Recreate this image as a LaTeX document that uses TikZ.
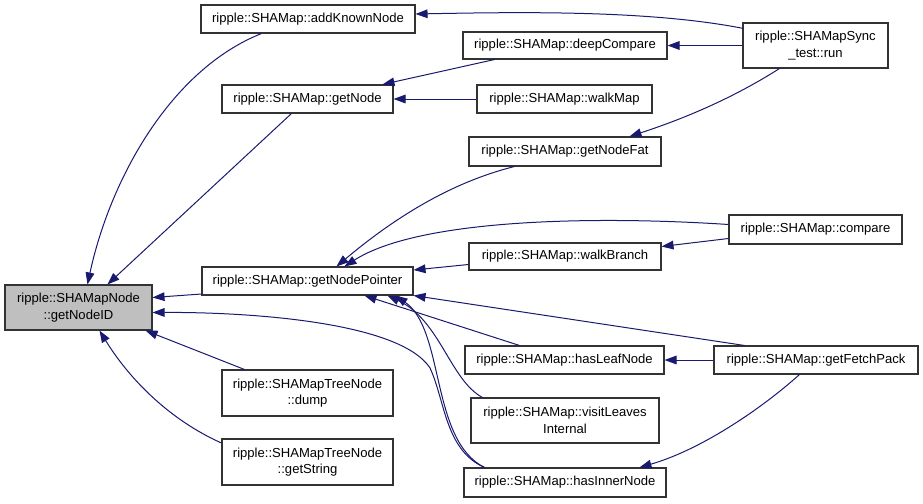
\documentclass[tikz,border=0pt]{standalone}
\usepackage{fontspec}
\setmainfont{Liberation Sans}
\usetikzlibrary{arrows.meta,calc}
\definecolor{edgeblue}{HTML}{191970}
\definecolor{boxgray}{HTML}{333333}
\definecolor{rootfill}{HTML}{BFBFBF}
\tikzset{
  fn/.style={rectangle, draw=boxgray, fill=white, line width=0.8pt, inner sep=0pt, align=center, font=\fontsize{9.8}{12.4}\selectfont},
  root/.style={fn, fill=rootfill},
  wh/.style 2 args={minimum width=#1*0.75pt, minimum height=#2*0.75pt},
  call/.style={-{Triangle[length=9pt,width=6.5pt]}, draw=edgeblue, line width=0.75pt}
}

\begin{document}
\begin{tikzpicture}[x=0.75pt, y=-0.75pt]
  \useasboundingbox (0,0) rectangle (923,503);

  % callees, left column
  \node[root, wh={147}{45}] (nodeid) at (78.5,307.5) {ripple::SHAMapNode\\::getNodeID};
  \node[fn, wh={214}{28}] (addknown) at (308,19) {ripple::SHAMap::addKnownNode};
  \node[fn, wh={171}{28}] (getnode) at (307.5,99) {ripple::SHAMap::getNode};
  \node[fn, wh={211}{28}] (getptr) at (307.5,281) {ripple::SHAMap::getNodePointer};
  \node[fn, wh={171}{46}] (dump) at (307.5,393) {ripple::SHAMapTreeNode\\::dump};
  \node[fn, wh={171}{46}] (getstr) at (307.5,462) {ripple::SHAMapTreeNode\\::getString};

  % middle column
  \node[fn, wh={204}{27}] (deepcmp) at (565,45.5) {ripple::SHAMap::deepCompare};
  \node[fn, wh={175}{28}] (walkmap) at (564.5,99) {ripple::SHAMap::walkMap};
  \node[fn, wh={192}{29}] (getfat) at (565,151.5) {ripple::SHAMap::getNodeFat};
  \node[fn, wh={192}{27}] (walkbr) at (565,256.5) {ripple::SHAMap::walkBranch};
  \node[fn, wh={199}{28}] (hasleaf) at (564.5,360) {ripple::SHAMap::hasLeafNode};
  \node[fn, wh={188}{45}] (visit) at (565,420.5) {ripple::SHAMap::visitLeaves\\Internal};
  \node[fn, wh={202}{29}] (hasinner) at (565,482.5) {ripple::SHAMap::hasInnerNode};

  % right column
  \node[fn, wh={145}{45}] (syncrun) at (815.5,45.5) {ripple::SHAMapSync\\\_test::run};
  \node[fn, wh={173}{29}] (compare) at (815.5,229.5) {ripple::SHAMap::compare};
  \node[fn, wh={204}{28}] (fetch) at (816,360) {ripple::SHAMap::getFetchPack};

  % calls into getNodeID
  \draw[call] ($(addknown.south west)+(61,0)$) .. controls (170,70) and (110,180) .. ($(nodeid.north west)+(83,0)$);
  \draw[call] ($(getnode.south west)+(70,0)$) -- ($(nodeid.north west)+(103,0)$);
  \draw[call] ($(getptr.west)+(0,13)$) -- ($(nodeid.east)+(0,-10)$);
  \draw[call] ($(hasinner.north west)+(21,0)$) .. controls (445,450) and (445,400) .. (430,368)
    .. controls (400,322) and (250,312) .. ($(nodeid.east)+(0,5)$);
  \draw[call] ($(dump.north west)+(23,0)$) -- ($(nodeid.south east)+(-7,0)$);
  \draw[call] ($(getstr.west)+(0,-19)$) .. controls (170,420) and (130,380) .. ($(nodeid.south west)+(95,0)$);

  % calls into getNode and addKnownNode
  \draw[call] ($(syncrun.north west)+(1,6)$) .. controls (650,10) and (520,12) .. ($(addknown.east)+(0,-5)$);
  \draw[call] (syncrun.west) -- (deepcmp.east);
  \draw[call] ($(deepcmp.south west)+(32,0)$) -- ($(getnode.north west)+(161,0)$);
  \draw[call] (walkmap.west) -- (getnode.east);
  \draw[call] ($(syncrun.south west)+(37,0)$) .. controls (730,100) and (680,120) .. ($(getfat.north west)+(161,0)$);

  % calls into getNodePointer
  \draw[call] ($(getfat.south west)+(46,0)$) .. controls (440,185) and (380,230) .. ($(getptr.north west)+(135,0)$);
  \draw[call] ($(compare.west)+(0,-5)$) .. controls (600,216) and (420,218) .. ($(getptr.north west)+(143,0)$);
  \draw[call] ($(compare.west)+(0,9)$) -- ($(walkbr.east)+(0,-10)$);
  \draw[call] ($(walkbr.west)+(0,8)$) -- ($(getptr.east)+(0,-11)$);
  \draw[call] ($(fetch.north west)+(31,0)$) -- ($(getptr.south east)+(0,0)$);
  \draw[call] (fetch.west) -- (hasleaf.east);
  \draw[call] ($(fetch.south west)+(86,0)$) .. controls (760,410) and (700,450) .. ($(hasinner.north west)+(176,0)$);
  \draw[call] ($(hasleaf.north west)+(55,0)$) -- ($(getptr.south west)+(163,0)$);
  \draw[call] ($(visit.north west)+(12,0)$) .. controls (450,380) and (440,320) .. ($(getptr.south west)+(186,0)$);
  \draw[call] ($(hasinner.north west)+(21,0)$) .. controls (430,440) and (445,330) .. ($(getptr.south west)+(194,0)$);
\end{tikzpicture}
\end{document}
